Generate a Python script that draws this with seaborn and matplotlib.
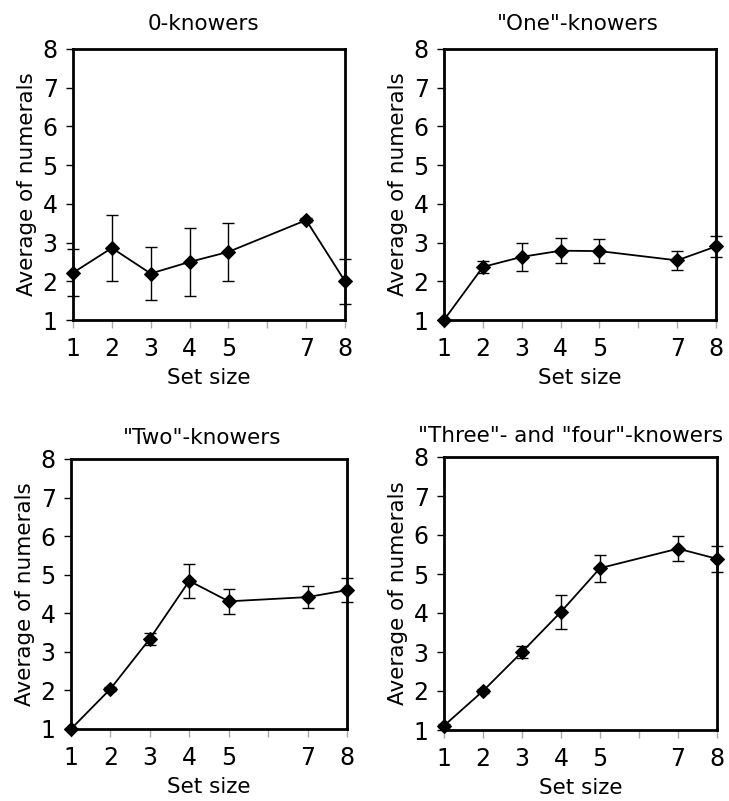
import numpy as np
import pandas as pd
import seaborn as sns
import matplotlib.pyplot as plt

# set sizes shown on the x axis (6 has a tick but no label)
set_sizes = [1, 2, 3, 4, 5, 7, 8]
tick_labels = ["1", "2", "3", "4", "5", "", "7", "8"]

titles = ['0-knowers', '"One"-knowers', '"Two"-knowers', '"Three"- and "four"-knowers']

# means
zero_mean = [2.22, 2.86, 2.20, 2.50, 2.76, 3.58, 2.00]
one_mean = [1.00, 2.37, 2.63, 2.79, 2.78, 2.54, 2.90]
two_mean = [1.00, 2.04, 3.34, 4.84, 4.31, 4.42, 4.60]
three_four_mean = [1.11, 2.00, 3.00, 4.03, 5.15, 5.65, 5.39]

# error bar half-widths
zero_err = [0.61, 0.85, 0.69, 0.87, 0.75, 0.06, 0.58]
one_err = [0.00, 0.16, 0.36, 0.33, 0.32, 0.24, 0.27]
two_err = [0.00, 0.05, 0.15, 0.45, 0.33, 0.28, 0.31]
three_four_err = [0.04, 0.06, 0.15, 0.43, 0.35, 0.32, 0.33]

means = [zero_mean, one_mean, two_mean, three_four_mean]
errs = [zero_err, one_err, two_err, three_four_err]

sns.set_theme(style="white")
plt.rcParams['font.family'] = ['DejaVu Sans']
plt.rcParams['text.color'] = 'black'
plt.rcParams['axes.labelcolor'] = 'black'
plt.rcParams['xtick.labelcolor'] = 'black'
plt.rcParams['ytick.labelcolor'] = 'black'

fig = plt.figure(figsize=(7.29, 8.01), dpi=100)
W, H = 729, 801
# axes boxes in pixels: left, top, right, bottom
boxes = [(73, 49, 345, 320), (444, 49, 716, 320),
         (71, 459, 347, 729), (444, 457, 717, 730)]
title_pads = [14, 14, 11, 11]
title_x = [0.478, 0.493, 0.475, 0.462]

for i, (title, m, e) in enumerate(zip(titles, means, errs)):
    l, t, r, b = boxes[i]
    ax = fig.add_axes([l / W, (H - b) / H, (r - l) / W, (b - t) / H])
    df = pd.DataFrame({"Set size": set_sizes, "Average": m, "err": e})

    ax.errorbar(df["Set size"], df["Average"], yerr=df["err"], fmt="none",
                ecolor="black", elinewidth=1, capsize=4.5, capthick=1,
                clip_on=False, zorder=2)
    sns.lineplot(data=df, x="Set size", y="Average", ax=ax, color="black",
                 linewidth=1.3, marker="D", markersize=7.5,
                 markeredgecolor="black", clip_on=False, zorder=3)

    ax.set_xlim(1, 8)
    ax.set_ylim(1, 8)
    ax.set_xticks(range(1, 9))
    ax.set_xticklabels(tick_labels)
    ax.set_yticks(range(1, 9))
    ax.tick_params(axis="x", bottom=True, length=6, width=1, color="#aaaaaa",
                   labelsize=17, pad=6)
    ax.tick_params(axis="y", left=True, length=5, width=1, color="black",
                   labelsize=17, pad=6)
    for s in ax.spines.values():
        s.set_linewidth(2)
        s.set_color("black")
    ax.set_xlabel("Set size", fontsize=15.5, labelpad=5)
    ax.set_ylabel("Average of numerals", fontsize=15.5, labelpad=4)
    ax.set_title(title, fontsize=15.5, pad=title_pads[i], x=title_x[i])

fig.savefig("out.png", dpi=100)
